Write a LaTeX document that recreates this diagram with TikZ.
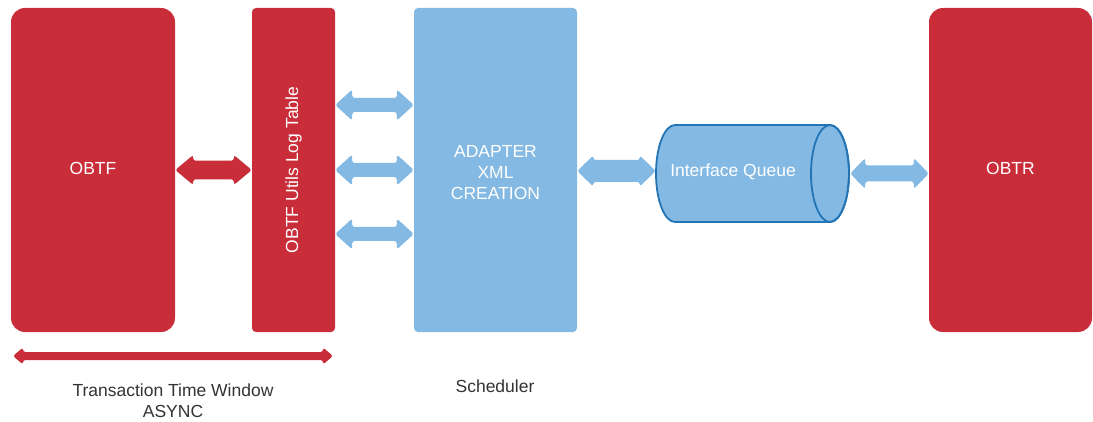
\documentclass[tikz,border=0pt]{standalone}
\usepackage{fontspec}
\setmainfont{Liberation Sans}
\usetikzlibrary{calc}
\definecolor{boxred}{HTML}{C92D39}
\definecolor{boxblue}{HTML}{83B9E3}
\definecolor{qline}{HTML}{2274B5}
\definecolor{txtgray}{HTML}{333333}
\tikzset{
  redbox/.style={fill=boxred, text=white, inner sep=0pt},
  bluebox/.style={fill=boxblue, text=white, inner sep=0pt},
  lbl/.style={font=\fontsize{17.5}{21}\selectfont, align=center},
  caption/.style={text=txtgray, font=\fontsize{17.5}{21}\selectfont, align=center}
}
% double arrow: #1 left tip, #2 right tip, #3 colour, #4 shaft half, #5 head half, #6 head length
\newcommand\dblarrow[6]{%
  \fill[#3, rounded corners=2.5pt] let \p1=(#1), \p2=(#2) in
    (\x1,\y1) -- (\x1+#6,\y1+#5) -- (\x1+#6,\y1+#4) -- (\x2-#6,\y2+#4) -- (\x2-#6,\y2+#5)
    -- (\x2,\y2) -- (\x2-#6,\y2-#5) -- (\x2-#6,\y2-#4) -- (\x1+#6,\y1-#4) -- (\x1+#6,\y1-#5) -- cycle;}
\begin{document}
\begin{tikzpicture}[x=1pt,y=-1pt]
\useasboundingbox (0,0) rectangle (1093,422);
% boxes
\node[redbox, rounded corners=14pt, minimum width=164pt, minimum height=324pt] (obtf) at (93,170) {};
\node[lbl, text=white] (obtftxt) at (93,168) {OBTF};
\node[redbox, rounded corners=4pt, minimum width=83pt, minimum height=324pt] (utils) at (293.5,170) {};
\node[lbl, text=white, rotate=90] (utilstxt) at (293.5,170) {OBTF Utils Log Table};
\node[bluebox, rounded corners=4pt, minimum width=163pt, minimum height=324pt] (adapter) at (495.5,170) {};
\node[lbl, text=white] (adaptertxt) at (495.5,173) {ADAPTER\\XML\\CREATION};
\node[redbox, rounded corners=14pt, minimum width=163pt, minimum height=324pt] (obtr) at (1010.5,170) {};
\node[lbl, text=white] (obtrtxt) at (1010.5,168) {OBTR};
% queue cylinder
\node[minimum width=194pt, minimum height=97pt, inner sep=0pt] (queue) at (753,173.5) {};
\filldraw[fill=boxblue, draw=qline, line width=1.8pt]
  (675,125) -- (830,125) arc[start angle=90, end angle=-90, x radius=19pt, y radius=48.5pt]
  -- (675,222) arc[start angle=270, end angle=90, x radius=19pt, y radius=48.5pt] -- cycle;
\draw[qline, line width=1.8pt] (830,173.5) ellipse [x radius=19pt, y radius=48.5pt];
\node[lbl, text=white] (queuetxt) at (733,172) {Interface Queue};
% connectors
\coordinate (r1a) at (obtf.east |- 0,170);
\coordinate (r1b) at (utils.west |- 0,170);
\dblarrow{r1a}{r1b}{boxred}{9.3pt}{15pt}{18pt}
\coordinate (b1a) at (utils.east |- 0,105);
\coordinate (b1b) at (adapter.west |- 0,105);
\dblarrow{b1a}{b1b}{boxblue}{7pt}{15.5pt}{17pt}
\coordinate (b2a) at (utils.east |- 0,170);
\coordinate (b2b) at (adapter.west |- 0,170);
\dblarrow{b2a}{b2b}{boxblue}{7pt}{15.5pt}{17pt}
\coordinate (b3a) at (utils.east |- 0,234);
\coordinate (b3b) at (adapter.west |- 0,234);
\dblarrow{b3a}{b3b}{boxblue}{7pt}{15.5pt}{17pt}
\coordinate (b4a) at (adapter.east |- 0,171);
\coordinate (b4b) at (queue.west |- 0,171);
\dblarrow{b4a}{b4b}{boxblue}{11pt}{15.5pt}{16pt}
\coordinate (b5a) at (queue.east |- 0,173.5);
\coordinate (b5b) at (obtr.west |- 0,173.5);
\dblarrow{b5a}{b5b}{boxblue}{8pt}{15.5pt}{15pt}
% time window bar
\coordinate (tw1) at (13,356);
\coordinate (tw2) at (333,356);
\dblarrow{tw1}{tw2}{boxred}{4pt}{8.5pt}{10pt}
% captions
\node[caption] (twtxt) at (173,400.5) {Transaction Time Window\\ASYNC};
\node[caption] (sched) at (495,386) {Scheduler};
\end{tikzpicture}
\end{document}
